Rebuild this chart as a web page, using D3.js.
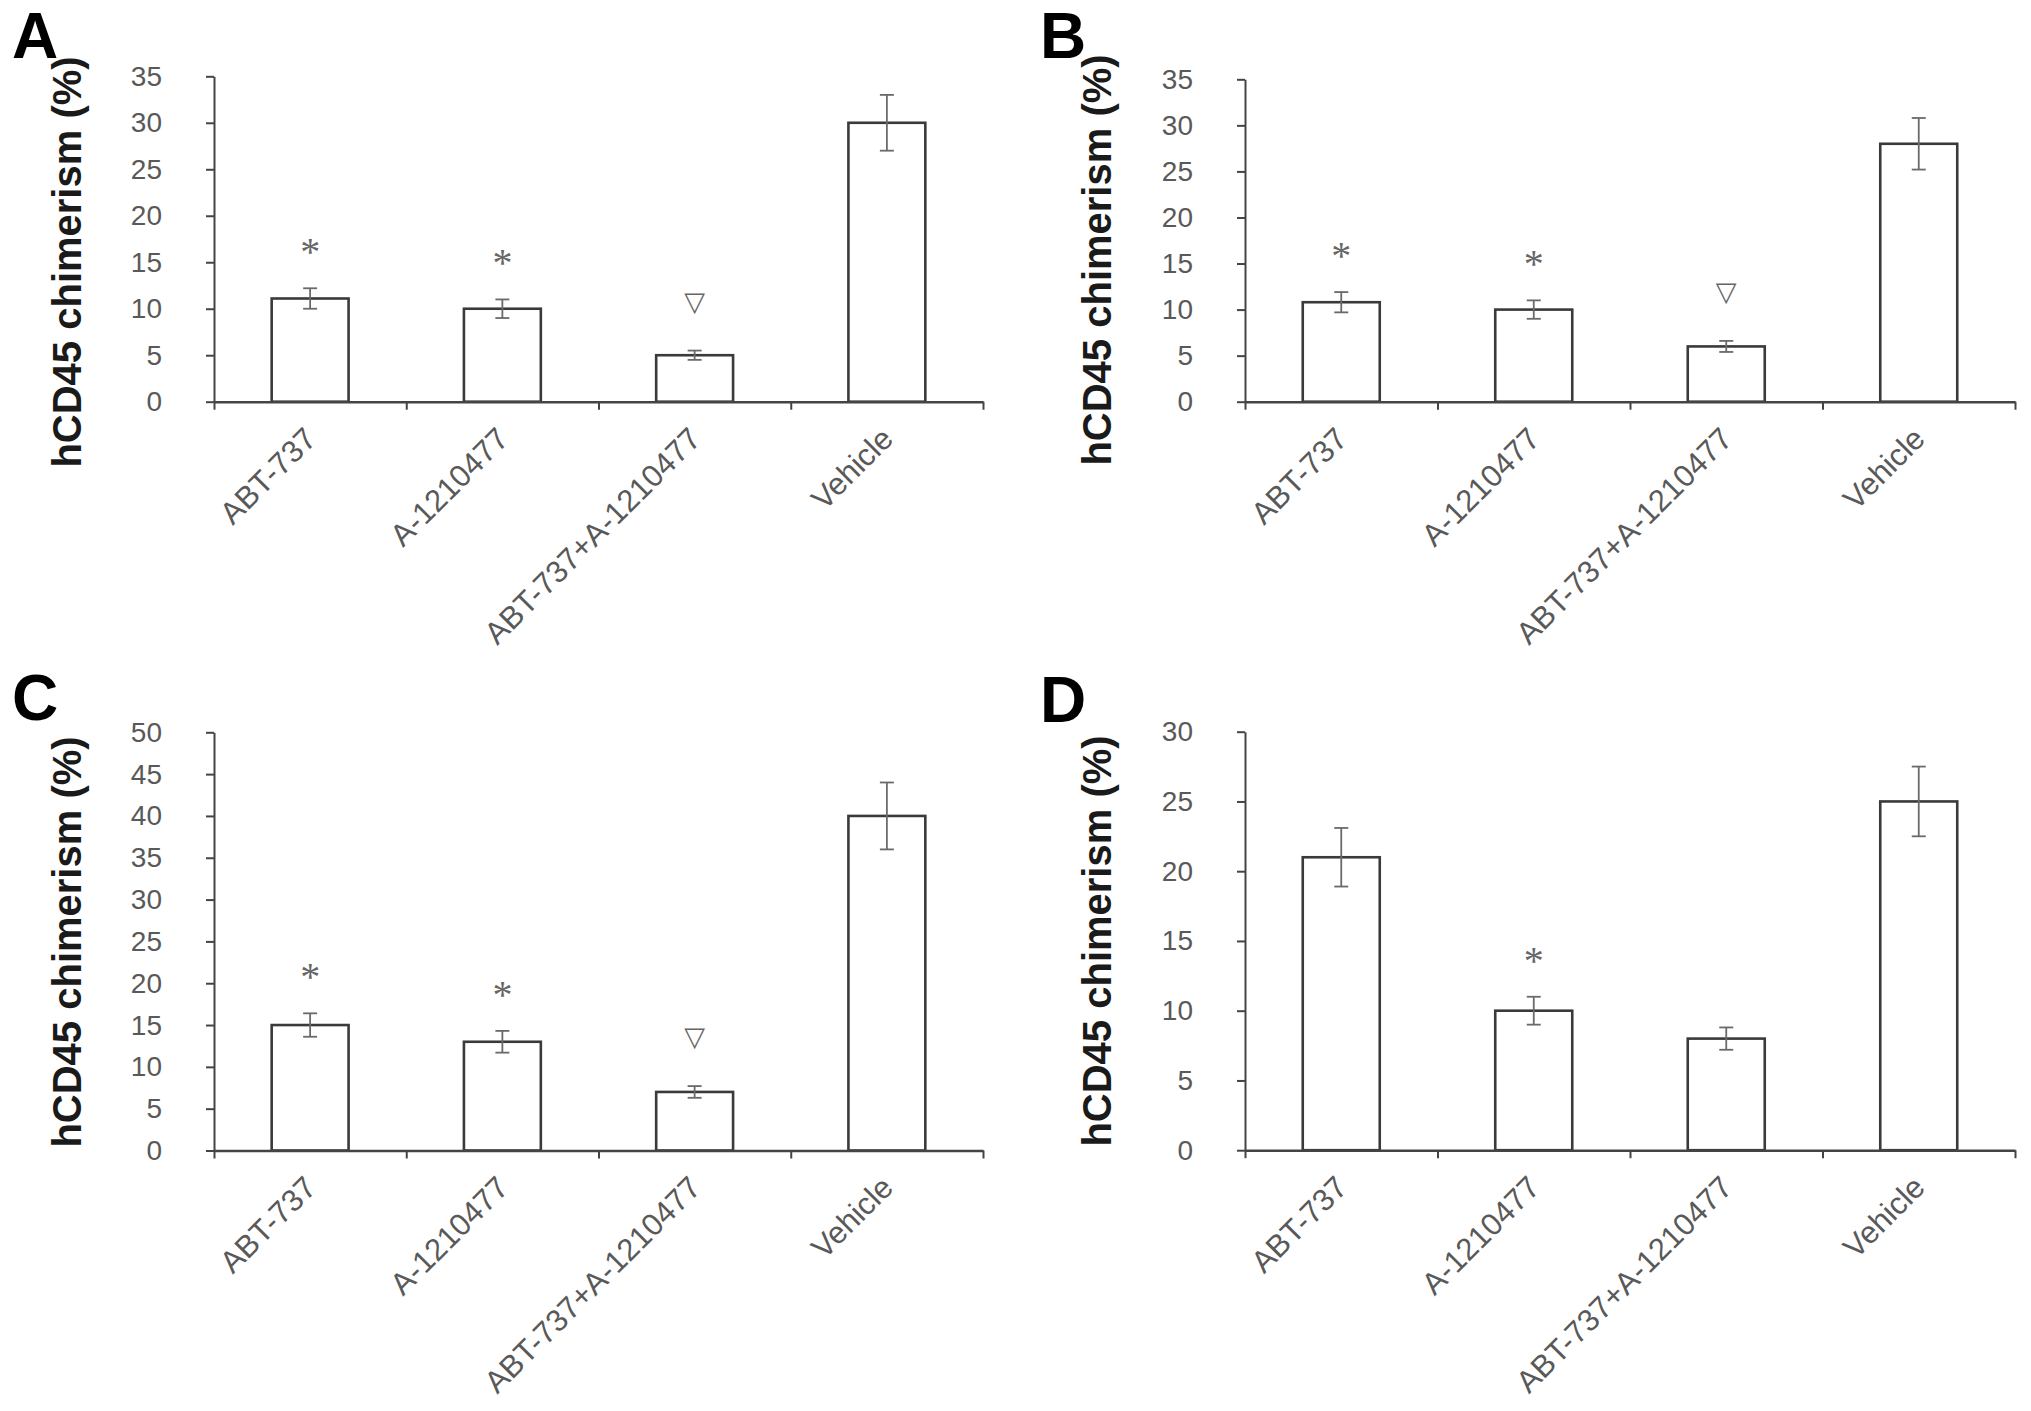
<!DOCTYPE html>
<html>
<head>
<meta charset="utf-8">
<script src="https://cdn.jsdelivr.net/npm/d3@7/dist/d3.min.js"></script>
<style>
  html, body { margin: 0; padding: 0; background: #ffffff; }
  svg { display: block; }
</style>
</head>
<body>
<svg id="chart" width="2031" height="1411"></svg>
<script>
// ---------------- data ----------------
const categories = ["ABT-737", "A-1210477", "ABT-737+A-1210477", "Vehicle"];
const panelLetters = ["A", "B", "C", "D"];
const yAxisTitle = "hCD45 chimerism (%)";
const yMaxValues = [35, 35, 50, 30];
const yTickStep = 5;

const meansA = [11.1, 10.0, 5.0, 30.0];
const errA   = [1.1, 1.0, 0.5, 3.0];
const marksA = ["*", "*", "▽", ""];

const meansB = [10.8, 10.0, 6.0, 28.0];
const errB   = [1.1, 1.0, 0.6, 2.8];
const marksB = ["*", "*", "▽", ""];

const meansC = [15.0, 13.0, 7.0, 40.0];
const errC   = [1.4, 1.3, 0.7, 4.0];
const marksC = ["*", "*", "▽", ""];

const meansD = [21.0, 10.0, 8.0, 25.0];
const errD   = [2.1, 1.0, 0.8, 2.5];
const marksD = ["", "*", "", ""];

// ---------------- layout ----------------
const layouts = [
  { x0: 214, x1: 983, yTop: 76.3, yBot: 401.7, titleX: 81, titleY: 262, letterX: 12, letterY: 58 },
  { x0: 1245, x1: 2015, yTop: 79.3, yBot: 401.7, titleX: 1111, titleY: 260, letterX: 1040, letterY: 58 },
  { x0: 214, x1: 983, yTop: 732.3, yBot: 1150.5, titleX: 81, titleY: 942, letterX: 12, letterY: 720 },
  { x0: 1245, x1: 2015, yTop: 731.7, yBot: 1150.2, titleX: 1111, titleY: 941, letterX: 1040, letterY: 722 }
];

const panels = [
  { means: meansA, errs: errA, marks: marksA },
  { means: meansB, errs: errB, marks: marksB },
  { means: meansC, errs: errC, marks: marksC },
  { means: meansD, errs: errD, marks: marksD }
];

const svg = d3.select("#chart");
const axisColor = "#444444";
const textColor = "#595959";

panels.forEach((p, pi) => {
  const L = layouts[pi];
  const yMax = yMaxValues[pi];
  const g = svg.append("g");

  const x = d3.scaleBand()
    .domain(categories)
    .range([L.x0, L.x1])
    .paddingInner(0.6)
    .paddingOuter(0.3);

  const xb = d3.scaleLinear().domain([0, categories.length]).range([L.x0, L.x1]);

  const y = d3.scaleLinear().domain([0, yMax]).range([L.yBot, L.yTop]);

  const rows = categories.map((c, i) => ({ cat: c, mean: p.means[i], err: p.errs[i], mark: p.marks[i] }));

  // bars
  g.selectAll("rect.bar")
    .data(rows)
    .join("rect")
    .attr("class", "bar")
    .attr("x", d => x(d.cat))
    .attr("width", x.bandwidth())
    .attr("y", d => y(d.mean))
    .attr("height", d => y(0) - y(d.mean))
    .attr("fill", "#ffffff")
    .attr("stroke", "#3a3a3a")
    .attr("stroke-width", 2.6);

  // error bars
  const eg = g.selectAll("g.err").data(rows).join("g").attr("class", "err")
    .attr("stroke", "#6a6a6a").attr("stroke-width", 1.8).attr("fill", "none");
  const cx = d => x(d.cat) + x.bandwidth() / 2;
  const cap = 7;
  eg.append("line")
    .attr("x1", cx).attr("x2", cx)
    .attr("y1", d => y(d.mean + d.err)).attr("y2", d => y(d.mean - d.err));
  eg.append("line")
    .attr("x1", d => cx(d) - cap).attr("x2", d => cx(d) + cap)
    .attr("y1", d => y(d.mean + d.err)).attr("y2", d => y(d.mean + d.err));
  eg.append("line")
    .attr("x1", d => cx(d) - cap).attr("x2", d => cx(d) + cap)
    .attr("y1", d => y(d.mean - d.err)).attr("y2", d => y(d.mean - d.err));

  // significance marks
  g.selectAll("text.mark")
    .data(rows.filter(d => d.mark !== ""))
    .join("text")
    .attr("class", "mark")
    .attr("x", cx)
    .attr("y", d => d.mark === "*" ? y(d.mean + d.err) - 23 : y(d.mean + d.err) - 40)
    .attr("text-anchor", "middle")
    .attr("font-family", d => d.mark === "*" ? "'Liberation Serif', serif" : "'DejaVu Sans', sans-serif")
    .attr("font-size", d => d.mark === "*" ? 40 : 27)
    .attr("fill", "#666666")
    .text(d => d.mark);

  // y axis
  const yAxis = d3.axisLeft(y)
    .tickValues(d3.range(0, yMax + 0.001, yTickStep))
    .tickSize(8)
    .tickSizeOuter(0)
    .tickPadding(44)
    .tickFormat(d3.format("d"));
  const ya = g.append("g").attr("transform", `translate(${L.x0},0)`).call(yAxis);
  ya.select(".domain").attr("stroke", axisColor).attr("stroke-width", 2);
  ya.selectAll(".tick line").attr("stroke", axisColor).attr("stroke-width", 2);
  ya.selectAll(".tick text")
    .attr("font-family", "'Liberation Sans', Arial, sans-serif")
    .attr("font-size", 28)
    .attr("fill", textColor);

  // x axis with boundary ticks
  const xAxis = d3.axisBottom(xb)
    .tickValues(d3.range(0, categories.length + 1))
    .tickSize(8)
    .tickSizeOuter(0)
    .tickFormat("");
  const xa = g.append("g").attr("transform", `translate(0,${L.yBot})`).call(xAxis);
  xa.select(".domain").attr("stroke", axisColor).attr("stroke-width", 2.4);
  xa.selectAll(".tick line").attr("stroke", axisColor).attr("stroke-width", 2);

  // category labels
  const la = g.append("g").attr("transform", `translate(0,${L.yBot})`)
    .call(d3.axisBottom(x).tickSize(0).tickPadding(0));
  la.select(".domain").remove();
  la.selectAll(".tick text")
    .attr("font-family", "'Liberation Sans', Arial, sans-serif")
    .attr("font-size", 31)
    .attr("fill", textColor)
    .attr("text-anchor", "end")
    .attr("dy", 0)
    .attr("y", 0)
    .attr("transform", "translate(8,39) rotate(-45)");

  // y axis title
  g.append("text")
    .attr("transform", `translate(${L.titleX},${L.titleY}) rotate(-90)`)
    .attr("text-anchor", "middle")
    .attr("font-family", "'Liberation Sans', Arial, sans-serif")
    .attr("font-weight", "bold")
    .attr("font-size", 40)
    .attr("fill", "#1a1a1a")
    .text(yAxisTitle);

  // panel letter
  g.append("text")
    .attr("x", L.letterX)
    .attr("y", L.letterY)
    .attr("font-family", "'Liberation Sans', Arial, sans-serif")
    .attr("font-weight", "bold")
    .attr("font-size", 64)
    .attr("fill", "#000000")
    .text(panelLetters[pi]);
});
</script>
</body>
</html>
